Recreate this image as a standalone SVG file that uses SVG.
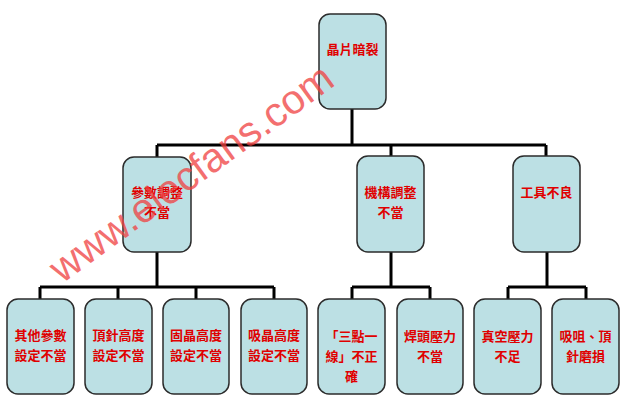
<svg xmlns="http://www.w3.org/2000/svg" width="627" height="414" viewBox="0 0 627 414">
<style>
.box{fill:#bce0e4;stroke:#2b2b2b;stroke-width:1.5}
.t{font-family:"Noto Sans CJK TC","Noto Sans CJK SC",sans-serif;font-size:13px;font-weight:bold;fill:#e00000;text-anchor:middle}
.ln{stroke:#000;stroke-width:3;fill:none}
.wm{font-family:"Liberation Sans",Arial,sans-serif;font-size:41px;fill:#f04040;opacity:0.75}
</style>
<rect width="627" height="414" fill="#fff"/>
<g id="connectors">
<path class="ln" d="M352 109V145M157 145H546M157 145V157M391 145V156M546 145V156"/>
<path class="ln" d="M157 252V287M40 287H274M40 287V299M118 287V299M196 287V299M274 287V299"/>
<path class="ln" d="M391 252V287M352 287H430M352 287V299M430 287V299"/>
<path class="ln" d="M547 252V287M508 287H586M508 287V299M586 287V299"/>
</g>
<g id="n0"><rect class="box" x="319" y="14" width="67" height="95" rx="11"/><text class="t" x="352.5" y="54">晶片暗裂</text></g>
<g id="n1"><rect class="box" x="123" y="157" width="68" height="95" rx="11"/><text class="t" x="157" y="197">參數調整</text><text class="t" x="157" y="217">不當</text></g>
<g id="n2"><rect class="box" x="357" y="156" width="67" height="96" rx="11"/><text class="t" x="390.5" y="197">機構調整</text><text class="t" x="390.5" y="217">不當</text></g>
<g id="n3"><rect class="box" x="513" y="156" width="67" height="96" rx="11"/><text class="t" x="546.5" y="197">工具不良</text></g>
<g id="n4"><rect class="box" x="7" y="299" width="67" height="95" rx="11"/><text class="t" x="40.5" y="340">其他參數</text><text class="t" x="40.5" y="360">設定不當</text></g>
<g id="n5"><rect class="box" x="85" y="299" width="67" height="95" rx="11"/><text class="t" x="118.5" y="340">頂針高度</text><text class="t" x="118.5" y="360">設定不當</text></g>
<g id="n6"><rect class="box" x="163" y="299" width="66" height="95" rx="11"/><text class="t" x="196" y="340">固晶高度</text><text class="t" x="196" y="360">設定不當</text></g>
<g id="n7"><rect class="box" x="241" y="299" width="66" height="95" rx="11"/><text class="t" x="274" y="340">吸晶高度</text><text class="t" x="274" y="360">設定不當</text></g>
<g id="n8"><rect class="box" x="318" y="299" width="67" height="95" rx="11"/><text class="t" x="351.5" y="341">「三點一</text><text class="t" x="351.5" y="361">線」不正</text><text class="t" x="351.5" y="381">確</text></g>
<g id="n9"><rect class="box" x="397" y="299" width="66" height="95" rx="11"/><text class="t" x="430" y="341">焊頭壓力</text><text class="t" x="430" y="361">不當</text></g>
<g id="n10"><rect class="box" x="474" y="299" width="67" height="95" rx="11"/><text class="t" x="507.5" y="341">真空壓力</text><text class="t" x="507.5" y="361">不足</text></g>
<g id="n11"><rect class="box" x="552" y="299" width="67" height="95" rx="11"/><text class="t" x="585.5" y="341">吸咀、頂</text><text class="t" x="585.5" y="361">針磨損</text></g>
<text class="wm" x="62" y="284" transform="rotate(-36 62 284)">www.elecfans.com</text>
</svg>
